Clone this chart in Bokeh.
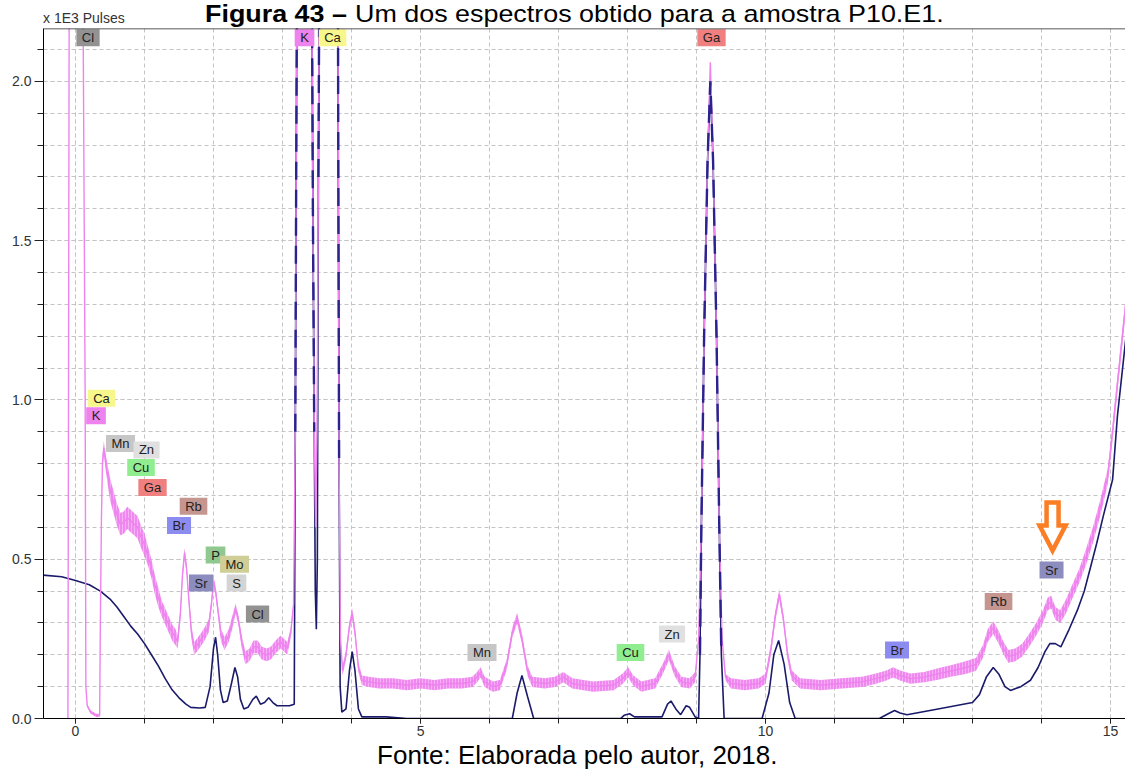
import numpy as np
from bokeh.plotting import figure
from bokeh.layouts import column
from bokeh.models import Range1d, SingleIntervalTicker, PrintfTickFormatter, Span, ColumnDataSource, Div
from bokeh.core.properties import value
from bokeh.embed import file_html
from bokeh.resources import INLINE

# ---------------- data ----------------
# measured spectrum (violet): energy (keV), counts (x1E3 pulses), half-thickness of the noise band
pink_kev = [
    -0.11, -0.10, -0.09, 0.00, 0.10, 0.14, 0.15, 0.17, 0.22, 0.30, 0.35,
    0.36, 0.375, 0.39, 0.41, 0.44, 0.47, 0.50, 0.55, 0.60, 0.65, 0.70, 0.75, 0.80, 0.85,
    0.90, 0.95, 1.00, 1.05, 1.10, 1.15, 1.20, 1.25, 1.30, 1.35, 1.40, 1.45, 1.48,
    1.52, 1.55, 1.58, 1.61, 1.64, 1.68, 1.72, 1.76, 1.81, 1.87, 1.93, 1.97, 2.00, 2.03,
    2.07, 2.11, 2.16, 2.22, 2.27, 2.32, 2.36, 2.41, 2.46, 2.52, 2.58, 2.64, 2.70, 2.77,
    2.83, 2.90, 2.97, 3.02, 3.07, 3.12, 3.16,
    3.185, 3.20, 3.215, 3.30, 3.42, 3.44, 3.46, 3.48, 3.50, 3.52, 3.54, 3.68, 3.80, 3.81,
    3.82, 3.84, 3.87, 3.92, 3.97, 4.01, 4.05, 4.10, 4.15,
    4.25, 4.4, 4.6, 4.8, 5.0, 5.2, 5.4, 5.6, 5.75, 5.82, 5.87, 5.93, 6.05, 6.15, 6.25,
    6.33, 6.40, 6.47, 6.55, 6.62, 6.8, 6.95, 7.07, 7.2, 7.5, 7.8, 7.93, 8.01, 8.08, 8.2,
    8.4, 8.52, 8.60, 8.68, 8.78, 8.90, 8.98,
    9.03, 9.07, 9.11, 9.16, 9.20, 9.24, 9.29, 9.33, 9.37, 9.42, 9.5, 9.7, 9.9, 10.0,
    10.08, 10.14, 10.2, 10.26, 10.32, 10.38, 10.5,
    10.8, 11.1, 11.4, 11.6, 11.75, 11.85, 11.95, 12.1, 12.3, 12.5, 12.7, 12.9, 13.05,
    13.15, 13.22, 13.3, 13.38, 13.45, 13.52, 13.62, 13.72, 13.82, 13.92, 14.02, 14.09,
    14.14, 14.2, 14.27, 14.35, 14.45, 14.55, 14.65, 14.75, 14.85, 14.96, 15.03, 15.1, 15.22,
]
pink_counts = [
    0.00, 1.20, 2.50, 3.00, 2.60, 1.00, 0.10, 0.04, 0.02, 0.01, 0.01,
    0.30, 0.62, 0.80, 0.85, 0.80, 0.76, 0.72, 0.68, 0.64, 0.61, 0.615, 0.63, 0.62, 0.61,
    0.60, 0.57, 0.545, 0.51, 0.47, 0.42, 0.38, 0.345, 0.32, 0.295, 0.27, 0.255, 0.24,
    0.33, 0.45, 0.52, 0.47, 0.38, 0.27, 0.22, 0.23, 0.245, 0.265, 0.29, 0.36, 0.43, 0.40,
    0.33, 0.26, 0.235, 0.26, 0.30, 0.345, 0.31, 0.24, 0.19, 0.20, 0.225, 0.225, 0.205, 0.20,
    0.205, 0.225, 0.24, 0.23, 0.22, 0.27, 0.36,
    0.90, 1.80, 2.60, 3.20, 2.60, 1.60, 0.90, 0.60, 0.90, 1.70, 2.60, 3.00, 2.60, 1.60,
    0.80, 0.25, 0.15, 0.20, 0.29, 0.33, 0.27, 0.16, 0.12,
    0.115, 0.11, 0.11, 0.105, 0.11, 0.105, 0.11, 0.11, 0.115, 0.13, 0.145, 0.115, 0.10, 0.105, 0.17,
    0.27, 0.315, 0.25, 0.15, 0.115, 0.11, 0.115, 0.13, 0.11, 0.10, 0.105, 0.125, 0.145, 0.12, 0.10,
    0.11, 0.16, 0.20, 0.15, 0.115, 0.11, 0.13,
    0.25, 0.60, 1.20, 1.75, 2.06, 1.75, 1.20, 0.60, 0.25, 0.13, 0.11, 0.105, 0.11, 0.125,
    0.22, 0.32, 0.39, 0.31, 0.20, 0.135, 0.11,
    0.105, 0.11, 0.115, 0.125, 0.135, 0.145, 0.135, 0.125, 0.13, 0.14, 0.15, 0.16, 0.17,
    0.21, 0.26, 0.285, 0.255, 0.22, 0.195, 0.20, 0.215, 0.245, 0.28, 0.32, 0.36,
    0.365, 0.33, 0.32, 0.35, 0.40, 0.45, 0.51, 0.58, 0.66, 0.76, 0.90, 1.05, 1.30,
]
pink_noise = [
    0, 0, 0, 0, 0, 0, 0, 0.005, 0.005, 0.005, 0.005,
    0, 0.01, 0.02, 0.02, 0.025, 0.03, 0.035, 0.035, 0.035, 0.035, 0.035, 0.035, 0.035, 0.035,
    0.035, 0.035, 0.035, 0.03, 0.03, 0.03, 0.03, 0.025, 0.025, 0.025, 0.025, 0.025, 0.02,
    0.015, 0.015, 0.015, 0.015, 0.015, 0.02, 0.02, 0.02, 0.02, 0.02, 0.02, 0.015, 0.015, 0.015,
    0.015, 0.02, 0.02, 0.02, 0.02, 0.015, 0.015, 0.02, 0.02, 0.02, 0.02, 0.02, 0.02, 0.02,
    0.02, 0.02, 0.02, 0.02, 0.02, 0.015, 0.01,
    0, 0, 0, 0, 0, 0, 0, 0, 0, 0, 0, 0, 0, 0,
    0, 0.01, 0.015, 0.015, 0.015, 0.015, 0.015, 0.015, 0.015,
    0.016, 0.016, 0.016, 0.016, 0.016, 0.016, 0.016, 0.016, 0.016, 0.016, 0.016, 0.016, 0.016, 0.016, 0.016,
    0.016, 0.016, 0.016, 0.016, 0.016, 0.016, 0.016, 0.016, 0.016, 0.016, 0.016, 0.016, 0.016, 0.016, 0.016,
    0.016, 0.016, 0.016, 0.016, 0.016, 0.016, 0.016,
    0, 0, 0, 0, 0, 0, 0, 0, 0, 0.01, 0.016, 0.016, 0.016, 0.016,
    0.016, 0.016, 0.016, 0.016, 0.016, 0.016, 0.016,
    0.016, 0.016, 0.016, 0.016, 0.016, 0.016, 0.016, 0.016, 0.016, 0.018, 0.018, 0.02, 0.02,
    0.02, 0.02, 0.02, 0.02, 0.02, 0.02, 0.02, 0.02, 0.02, 0.02, 0.02, 0.02,
    0.02, 0.02, 0.02, 0.022, 0.022, 0.022, 0.025, 0.025, 0.025, 0.025, 0.025, 0.025, 0.025,
]

# fitted spectrum (navy)
navy_kev = [
    -0.47, -0.2, 0.0, 0.2, 0.36, 0.5, 0.6, 0.7, 0.8, 0.9, 1.0, 1.1, 1.2, 1.3, 1.4, 1.5,
    1.6, 1.67, 1.8, 1.88,
    1.95, 2.0, 2.03, 2.06, 2.1, 2.14, 2.2, 2.26, 2.31, 2.35, 2.39, 2.44, 2.5, 2.57, 2.62,
    2.68, 2.74, 2.8, 2.86, 2.92, 3.0, 3.1, 3.17,
    3.185, 3.20, 3.215, 3.30, 3.42, 3.44, 3.46, 3.475, 3.49, 3.505, 3.52, 3.54, 3.68, 3.80,
    3.81, 3.82, 3.835, 3.86, 3.92, 3.97, 4.01, 4.05, 4.1, 4.15,
    4.5, 4.8, 5.9, 6.33, 6.40, 6.47, 6.55, 6.64, 7.9, 7.95, 8.03, 8.1, 8.5, 8.58, 8.63,
    8.7, 8.77, 8.85, 8.9, 8.98, 9.03,
    9.05, 9.07, 9.11, 9.16, 9.20, 9.24, 9.29, 9.33, 9.36, 9.40,
    9.95, 10.05, 10.12, 10.19, 10.27, 10.35, 10.43, 11.65, 11.75, 11.87, 11.95, 12.05,
    12.5, 13.0, 13.1, 13.2, 13.3, 13.38, 13.47, 13.55, 13.7, 13.84, 13.95, 14.05, 14.12,
    14.2, 14.28, 14.4, 14.52, 14.62, 14.71, 14.8, 14.9, 15.03, 15.1, 15.22,
]
navy_counts = [
    0.45, 0.445, 0.433, 0.42, 0.40, 0.375, 0.35, 0.32, 0.29, 0.265, 0.235, 0.20, 0.165, 0.125, 0.09, 0.065,
    0.045, 0.035, 0.033, 0.035,
    0.10, 0.22, 0.255, 0.20, 0.09, 0.05, 0.055, 0.11, 0.16, 0.13, 0.06, 0.03, 0.035, 0.06, 0.07,
    0.045, 0.05, 0.065, 0.05, 0.04, 0.04, 0.04, 0.045,
    0.90, 1.80, 2.60, 3.20, 2.60, 1.60, 0.90, 0.40, 0.28, 0.50, 1.70, 2.60, 3.00, 2.60,
    1.60, 0.80, 0.10, 0.02, 0.03, 0.15, 0.21, 0.15, 0.03, 0.005,
    0.005, 0.0, 0.0, 0.0, 0.08, 0.135, 0.07, 0.0, 0.0, 0.01, 0.015, 0.005, 0.005, 0.045, 0.055,
    0.03, 0.012, 0.04, 0.035, 0.005, 0.0,
    0.20, 0.60, 1.20, 1.75, 2.00, 1.75, 1.20, 0.60, 0.20, 0.0,
    0.0, 0.08, 0.20, 0.245, 0.17, 0.05, 0.0, 0.0, 0.012, 0.025, 0.017, 0.012,
    0.03, 0.05, 0.075, 0.13, 0.16, 0.14, 0.10, 0.088, 0.10, 0.12, 0.16, 0.21, 0.235,
    0.235, 0.225, 0.28, 0.34, 0.40, 0.475, 0.55, 0.64, 0.75, 0.95, 1.19,
]

# element tags
tag_names = ["Cl", "K", "Ca", "Ga", "Ca", "K", "Mn", "Zn", "Cu", "Ga", "Rb", "Br",
             "P", "Mo", "Sr", "S", "Cl", "Mn", "Cu", "Zn", "Br", "Rb", "Sr"]
tag_kev = [0.181, 3.319, 3.725, 9.217, 0.377, 0.297, 0.652, 1.029, 0.949, 1.116, 1.710, 1.500,
           2.029, 2.304, 1.819, 2.333, 2.638, 5.891, 8.043, 8.645, 11.906, 13.377, 14.145]
tag_level = [2.137, 2.137, 2.137, 2.137, 1.005, 0.950, 0.863, 0.843, 0.788, 0.725, 0.666, 0.606,
             0.513, 0.484, 0.425, 0.425, 0.328, 0.207, 0.207, 0.265, 0.215, 0.367, 0.466]

# marker arrow position (above the Sr tag)
arrow_kev = 14.16
arrow_level = 0.527

title_bold = "Figura 43 \u2013"
title_rest = "Um dos espectros obtido para a amostra P10.E1."
caption = "Fonte: Elaborada pelo autor, 2018."
y_unit_label = "x 1E3 Pulses"

# ---------------- styles ----------------
FONT = "Liberation Sans"
PINK = "#ee82ee"
NAVY = "#1b1b6b"
NAVY_DASH = "#2b2290"
GRID = "#c4c4c4"
tag_colors = {"Cl": "#929292", "K": "#ee82ee", "Ca": "#f7f78c", "Ga": "#f08080",
              "Mn": "#c6c6c6", "Zn": "#e0e0e0", "Cu": "#90ee90", "Rb": "#c4968f",
              "Br": "#8c8cf0", "P": "#8fc98f", "Mo": "#cece96", "Sr": "#8c8cbe", "S": "#d4d4d4"}
char_em = {"C": .722, "l": .222, "K": .667, "a": .556, "G": .778, "M": .833, "n": .556,
           "Z": .611, "u": .556, "R": .722, "b": .556, "B": .667, "r": .333, "P": .667,
           "o": .556, "S": .667}
TAG_FONT_PX = 13

X0, X1 = -0.464, 15.217
Y0, Y1 = 0.0, 2.166
FW, FH = 1082, 690
HEADER_H = 28

p = figure(frame_width=FW, frame_height=FH, x_range=Range1d(X0, X1), y_range=Range1d(Y0, Y1),
           output_backend="svg", toolbar_location=None,
           min_border_left=43, min_border_right=0, min_border_top=28 - HEADER_H,
           min_border_bottom=58)
p.outline_line_color = None
p.background_fill_color = "white"
p.border_fill_color = "white"

# axes
p.xaxis.ticker = SingleIntervalTicker(interval=5, num_minor_ticks=5)
p.yaxis.ticker = SingleIntervalTicker(interval=0.5, num_minor_ticks=5)
p.yaxis.formatter = PrintfTickFormatter(format="%.1f")
for ax in (p.xaxis, p.yaxis):
    ax.axis_line_color = "#000000"
    ax.axis_line_width = 1
    ax.major_tick_line_color = "#222222"
    ax.minor_tick_line_color = "#222222"
    ax.major_tick_in = 0
    ax.minor_tick_in = 0
    ax.major_label_text_font = FONT
    ax.major_label_text_font_size = "14px"
    ax.major_label_text_color = "#333333"
p.yaxis.major_tick_out = 9
p.yaxis.minor_tick_out = 6
p.yaxis.major_label_standoff = 3
p.xaxis.major_tick_out = 5
p.xaxis.minor_tick_out = 5
p.xaxis.major_label_standoff = 2
# source line under the chart, drawn as the x axis label (two no-break spaces nudge it left)
p.xaxis.axis_label = caption + "\u00a0\u00a0"
p.xaxis.axis_label_text_font = FONT
p.xaxis.axis_label_text_font_size = "26px"
p.xaxis.axis_label_text_font_style = "normal"
p.xaxis.axis_label_text_color = "#000000"
p.xaxis.axis_label_standoff = 1

for g in (p.xgrid, p.ygrid):
    g.grid_line_color = GRID
    g.grid_line_dash = "4 3"
    g.grid_line_width = 1
    g.minor_grid_line_color = GRID
    g.minor_grid_line_dash = "4 3"
    g.minor_grid_line_width = 1

p.add_layout(Span(location=Y1, dimension="width", line_color="#222222", line_width=1.5))

# series
px = np.array(pink_kev)
py = np.array(pink_counts)
pw = np.array(pink_noise)
nx = np.array(navy_kev)
ny = np.array(navy_counts)

p.line(nx, ny, line_color=NAVY, line_width=1.6)
p.varea(x=px, y1=py - pw, y2=py + pw, fill_color=PINK, fill_alpha=0.95,
        hatch_pattern="|", hatch_color="white", hatch_alpha=0.35, hatch_scale=3, hatch_weight=1)
p.line(px, py, line_color=PINK, line_width=1.4)
# the fitted line shows as dashes where it runs along the tall K, Ca and Ga peaks
peak_mask = ((ny > 0.5) & (nx < 4.0)) | ((ny > 0.1) & (nx > 9.0) & (nx < 9.5))
p.line(nx, np.where(peak_mask, ny, np.nan), line_color=NAVY_DASH, line_width=2.4, line_dash="18 10")

# element tags
widths = [11 + TAG_FONT_PX * sum(char_em[c] for c in n) for n in tag_names]
tag_src = ColumnDataSource(dict(x=tag_kev, y=tag_level, text=tag_names, w=widths,
                                color=[tag_colors[n] for n in tag_names]))
p.rect(x="x", y="y", width="w", height=17, width_units="screen", height_units="screen",
       fill_color="color", line_color=None, source=tag_src)
p.text(x="x", y="y", text="text", text_align="center", text_baseline="middle",
       text_font=value(FONT), text_font_size="13px", text_color="#222222", source=tag_src)

# orange marker arrow (hollow), shape in pixels relative to its tip
sx = FW / (X1 - X0)
sy = FH / (Y1 - Y0)
arrow_px = [-6, 6, 6, 13, 0, -13, -6]
arrow_py = [48, 48, 25, 25, 0, 25, 25]
p.patch([arrow_kev + a / sx for a in arrow_px], [arrow_level + b / sy for b in arrow_py],
        fill_color="white", line_color="#fb7d24", line_width=4.5, line_join="miter")

# header strip: figure title and the unit of the y axis
span_style = ("position:absolute;top:0px;font-size:24px;line-height:27px;white-space:nowrap;"
              "transform:scaleX(1.12);transform-origin:0 0;")
header_html = (
    '<div style="position:relative;width:1125px;height:%dpx;overflow:hidden;'
    "font-family:'Liberation Sans',Arial,sans-serif;color:#000;\">"
    '<span style="left:205px;font-weight:bold;%s">%s</span>'
    '<span style="left:355px;%s">%s</span>'
    '<span style="position:absolute;left:43px;top:11px;font-size:14px;line-height:14px;'
    'color:#333;white-space:nowrap;">%s</span>'
    '</div>' % (HEADER_H, span_style, title_bold, span_style, title_rest, y_unit_label)
)
header = Div(text=header_html, width=1125, height=HEADER_H, margin=0,
             styles={"overflow": "hidden"})

layout = column(header, p, spacing=0)
open("out.html", "w").write(file_html(layout, INLINE))
